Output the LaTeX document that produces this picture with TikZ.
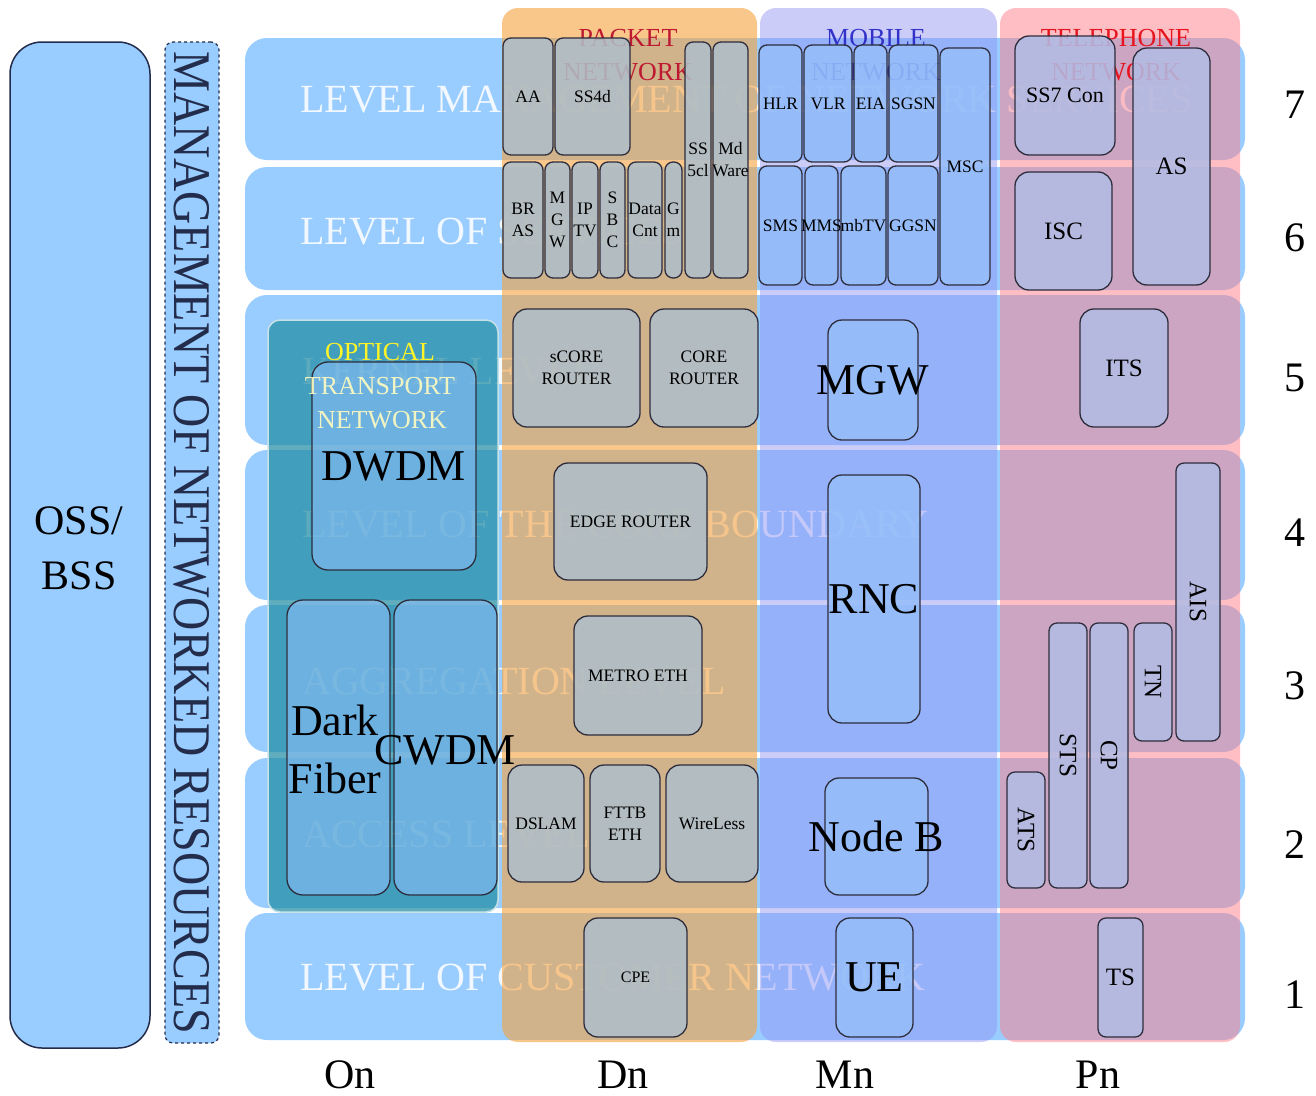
\documentclass[tikz,border=0pt]{standalone}
\usepackage{fontspec}
\setmainfont{Liberation Serif}
\definecolor{band}{RGB}{153,204,255}
\definecolor{navy}{RGB}{35,45,75}
\definecolor{boxline}{RGB}{45,45,60}
\definecolor{oncol}{RGB}{29,139,162}
\definecolor{dncol}{RGB}{247,163,63}
\definecolor{mncol}{RGB}{146,146,244}
\definecolor{pncol}{RGB}{255,127,137}
\definecolor{onbox}{RGB}{139,191,248}
\definecolor{dnbox}{RGB}{175,190,200}
\definecolor{mnbox}{RGB}{150,190,250}
\definecolor{pnbox}{RGB}{178,188,228}
\definecolor{pkred}{RGB}{190,25,50}
\definecolor{mobblue}{RGB}{50,50,200}
\definecolor{telred}{RGB}{230,20,30}
\newcommand\bx[8]{%
  \pgfmathsetmacro\bxw{#5-#3}\pgfmathsetmacro\bxh{#6-#4}%
  \node[#1, minimum width=\bxw pt, minimum height=\bxh pt] (#2) at ({(#3+#5)/2},{(#4+#6)/2}) {};
  \node[#7] (#2t) at (#2.center) {#8};}
\begin{document}
\begin{tikzpicture}[x=1pt,y=-1pt,
  bandbox/.style={fill=band, draw=none, rounded corners=22pt},
  bandtxt/.style={text=white, text opacity=0.88, anchor=west, inner sep=0, font=\rmfamily\fontsize{40}{44}\selectfont},
  basebox/.style={draw=boxline, line width=1.3pt, inner sep=0, outer sep=0, rounded corners=8pt},
  onb/.style={basebox, fill=onbox, fill opacity=0.6, rounded corners=16pt},
  dnb/.style={basebox, fill=dnbox, fill opacity=0.88},
  dnbig/.style={dnb, rounded corners=14pt},
  mnb/.style={basebox, fill=mnbox, fill opacity=0.88},
  mnbig/.style={mnb, rounded corners=14pt},
  pnb/.style={basebox, fill=pnbox, fill opacity=0.88},
  pnbig/.style={pnb, rounded corners=14pt},
  sm/.style={inner sep=0, align=center, text=black, font=\rmfamily\fontsize{17.5}{22}\selectfont},
  smr/.style={sm, rotate=-90, font=\rmfamily\fontsize{25}{28}\selectfont},
  med/.style={sm, font=\rmfamily\fontsize{25}{28}\selectfont},
  big/.style={inner sep=0, align=center, text=black, font=\rmfamily\fontsize{44}{58}\selectfont},
  coltitle/.style={inner sep=0, align=center, font=\rmfamily\fontsize{26}{34}\selectfont},
  axis/.style={inner sep=0, anchor=base, text depth=0pt, text=black, font=\rmfamily\fontsize{42}{46}\selectfont},
  num/.style={inner sep=0, text=black, font=\rmfamily\fontsize{42}{46}\selectfont}
]
\useasboundingbox (0,0) rectangle (1316,1095);
\fill[white] (0,0) rectangle (1316,1095);

% left boxes
\node[draw=navy, line width=1.5pt, fill=band, rounded corners=32pt, minimum width=140pt, minimum height=1006pt, inner sep=0] (oss) at (80,545) {};
\node[inner sep=0, align=center, font=\rmfamily\fontsize{42}{55}\selectfont] (osst) at (79,548) {OSS/\\BSS};
\node[draw=navy, line width=1.2pt, dashed, fill=band, rounded corners=8pt, minimum width=54pt, minimum height=1001pt, inner sep=0] (mgmt) at (192,542.5) {};
\node[inner sep=0, rotate=-90, text=navy, font=\rmfamily\fontsize{46}{50}\selectfont] (mgmtt) at (mgmt.center) {\scalebox{1}[1.15]{MANAGEMENT OF NETWORKED RESOURCES}};

% level bands
\node[bandbox, minimum width=1000pt, minimum height=122pt] (b7) at (745,99) {};
\node[bandbox, minimum width=1000pt, minimum height=123pt] (b6) at (745,228.5) {};
\node[bandbox, minimum width=1000pt, minimum height=150pt] (b5) at (745,370) {};
\node[bandbox, minimum width=1000pt, minimum height=150pt] (b4) at (745,525) {};
\node[bandbox, minimum width=1000pt, minimum height=147pt] (b3) at (745,678.5) {};
\node[bandbox, minimum width=1000pt, minimum height=150pt] (b2) at (745,833) {};
\node[bandbox, minimum width=1000pt, minimum height=127pt] (b1) at (745,976.5) {};

\node[bandtxt] (t7) at (300,100) {LEVEL MANAGEMENT OF NETWORK SERVICES};
\node[bandtxt] (t6) at (300,232) {LEVEL OF SERVICES};
\node[bandtxt] (t5) at (302,372) {KERNEL LEVEL};
\node[bandtxt] (t4) at (302,525) {LEVEL OF THE CORE BOUNDARY};
\node[bandtxt] (t3) at (302,682) {AGGREGATION LEVEL};
\node[bandtxt] (t2) at (302,835) {ACCESS LEVEL};
\node[bandtxt] (t1) at (300,978) {LEVEL OF CUSTOMER NETWORK};

% columns
\node[fill=oncol, fill opacity=0.7, draw=white!75!oncol, line width=1.5pt, rounded corners=12pt, minimum width=230pt, minimum height=592pt, inner sep=0] (oncolumn) at (383,616) {};
\node[fill=dncol, fill opacity=0.6, rounded corners=16pt, minimum width=255pt, minimum height=1034pt, inner sep=0] (dncolumn) at (629.5,525) {};
\node[fill=mncol, fill opacity=0.46, rounded corners=16pt, minimum width=237pt, minimum height=1034pt, inner sep=0] (mncolumn) at (878.5,525) {};
\node[fill=pncol, fill opacity=0.5, rounded corners=16pt, minimum width=240pt, minimum height=1034pt, inner sep=0] (pncolumn) at (1120,525) {};

% column titles
\node[coltitle, text=pkred] (pkt) at (628,55) {PACKET\\NETWORK};
\node[coltitle, text=mobblue] (mobt) at (876,55) {MOBILE\\NETWORK};
\node[coltitle, text=telred] (telt) at (1116,55) {TELEPHONE\\NETWORK};

% On boxes
\bx{onb}{dwdm}{312}{362}{476}{570}{big}{DWDM}
\bx{onb}{dark}{287}{600}{390}{895}{big}{}
\bx{onb}{cwdm}{394}{600}{497}{895}{big}{}
\node[big] (darkt) at (335,749) {Dark\\Fiber};
\node[big] (cwdmt) at (445,750) {CWDM};
\node[coltitle, text=yellow!85!white] (opt1) at (380,352) {OPTICAL};
\node[coltitle, text=yellow!25!white, text opacity=0.9] (opt2) at (380,386) {TRANSPORT};
\node[coltitle, text=yellow!25!white, text opacity=0.9] (opt3) at (382,420) {NETWORK};

% Dn boxes
\bx{dnb}{aa}{503}{38}{553}{155}{sm}{AA}
\bx{dnb}{ssfd}{555}{38}{630}{155}{sm}{SS4d}
\bx{dnb}{bras}{503}{162}{543}{278}{sm}{BR\\AS}
\bx{dnb}{mgwp}{545}{162}{570}{278}{sm}{M\\G\\W}
\bx{dnb}{iptv}{572}{162}{598}{278}{sm}{IP\\TV}
\bx{dnb}{sbc}{600}{162}{625}{278}{sm}{S\\B\\C}
\bx{dnb}{dcnt}{628}{162}{662}{278}{sm}{Data\\Cnt}
\bx{dnb}{gm}{665}{162}{682}{278}{sm}{G\\m}
\bx{dnb}{ssfc}{685}{42}{711}{278}{sm}{SS\\5cl}
\bx{dnb}{mdw}{713}{42}{748}{278}{sm}{Md\\Ware}
\bx{dnbig}{score}{513}{309}{640}{427}{sm}{sCORE\\ROUTER}
\bx{dnbig}{core}{650}{309}{758}{427}{sm}{CORE\\ROUTER}
\bx{dnbig}{edge}{554}{463}{707}{580}{sm}{EDGE ROUTER}
\bx{dnbig}{metro}{574}{616}{702}{735}{sm}{METRO ETH}
\bx{dnbig}{dslam}{508}{765}{584}{882}{sm}{DSLAM}
\bx{dnbig}{fttb}{590}{765}{660}{882}{sm}{FTTB\\ETH}
\bx{dnbig}{wire}{666}{765}{758}{882}{sm}{WireLess}
\bx{dnbig}{cpe}{584}{918}{687}{1037}{sm}{\fontsize{16}{20}\selectfont CPE}

% Mn boxes
\bx{mnb}{hlr}{759}{45}{802}{162}{sm}{HLR}
\bx{mnb}{vlr}{804}{45}{852}{162}{sm}{VLR}
\bx{mnb}{eia}{854}{45}{887}{162}{sm}{EIA}
\bx{mnb}{sgsn}{889}{45}{938}{162}{sm}{SGSN}
\bx{mnb}{msc}{940}{48}{990}{285}{sm}{MSC}
\bx{mnb}{sms}{759}{166}{802}{285}{sm}{SMS}
\bx{mnb}{mms}{805}{166}{838}{285}{sm}{MMS}
\bx{mnb}{mbtv}{841}{166}{886}{285}{sm}{mbTV}
\bx{mnb}{ggsn}{888}{166}{938}{285}{sm}{GGSN}
\bx{mnbig}{mgw}{828}{320}{918}{440}{big}{MGW}
\bx{mnbig}{rnc}{828}{475}{920}{723}{big}{RNC}
\bx{mnbig}{nodeb}{825}{778}{928}{895}{big}{Node B}
\bx{mnbig}{ue}{836}{918}{913}{1037}{big}{UE}

% Pn boxes
\bx{pnbig}{ssc}{1015}{36}{1115}{155}{med}{\fontsize{22}{26}\selectfont SS7 Con}
\bx{pnbig}{as}{1133}{48}{1210}{285}{med}{AS}
\bx{pnbig}{isc}{1015}{172}{1112}{290}{med}{ISC}
\bx{pnbig}{its}{1080}{309}{1168}{427}{med}{ITS}
\bx{pnb}{ais}{1176}{463}{1220}{741}{smr}{AIS}
\bx{pnb}{tn}{1134}{623}{1172}{741}{smr}{TN}
\bx{pnb}{cp}{1090}{623}{1128}{888}{smr}{CP}
\bx{pnb}{sts}{1049}{623}{1087}{888}{smr}{STS}
\bx{pnb}{ats}{1007}{772}{1045}{888}{smr}{ATS}
\bx{pnb}{ts}{1098}{918}{1143}{1037}{med}{TS}

% axis labels
\node[axis] (on) at (350,1088) {On};
\node[axis] (dn) at (623,1088) {Dn};
\node[axis] (mn) at (845,1088) {Mn};
\node[axis] (pn) at (1098,1088) {Pn};
\node[num] (n7) at (1295,105) {7};
\node[num] (n6) at (1295,238) {6};
\node[num] (n5) at (1295,378) {5};
\node[num] (n4) at (1295,533) {4};
\node[num] (n3) at (1295,686) {3};
\node[num] (n2) at (1295,845) {2};
\node[num] (n1) at (1295,995) {1};
\end{tikzpicture}
\end{document}
